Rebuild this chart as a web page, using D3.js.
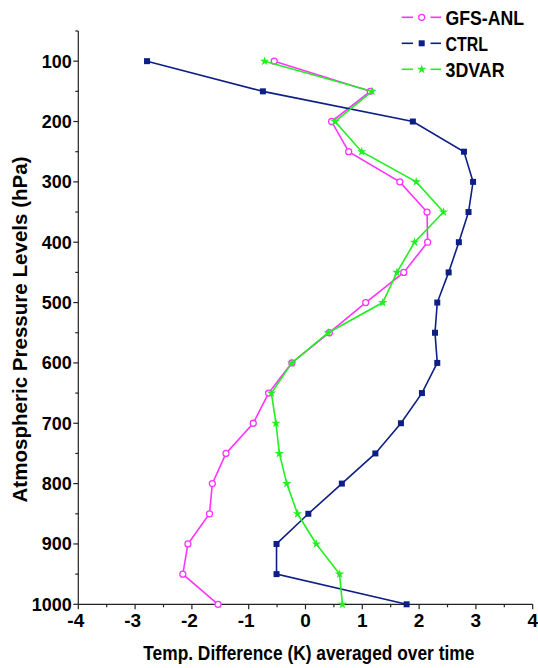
<!DOCTYPE html>
<html>
<head>
<meta charset="utf-8">
<script src="https://cdn.jsdelivr.net/npm/d3@7"></script>
<style>
  html, body { margin: 0; padding: 0; background: #fff; }
  svg { display: block; }
  text { font-family: "Liberation Sans", Arial, Helvetica, sans-serif; font-weight: bold; fill: #000; }
</style>
</head>
<body>
<svg id="chart" width="538" height="668"></svg>
<script>
// Pressure levels (hPa) and mean temperature differences (K)
const levels = [100, 150, 200, 250, 300, 350, 400, 450, 500, 550, 600, 650, 700, 750, 800, 850, 900, 950, 1000];
const gfsAnl = [-0.55, 1.14, 0.46, 0.76, 1.66, 2.14, 2.15, 1.73, 1.06, 0.42, -0.24, -0.65, -0.92, -1.40, -1.64, -1.69, -2.07, -2.16, -1.54];
const ctrl   = [-2.79, -0.75, 1.89, 2.79, 2.95, 2.87, 2.70, 2.52, 2.32, 2.28, 2.32, 2.05, 1.68, 1.23, 0.64, 0.05, -0.51, -0.51, 1.78];
const var3d  = [-0.72, 1.17, 0.52, 0.99, 1.95, 2.43, 1.92, 1.61, 1.36, 0.40, -0.24, -0.60, -0.52, -0.46, -0.33, -0.14, 0.19, 0.60, 0.65];

const xTicks = [-4, -3, -2, -1, 0, 1, 2, 3, 4];
const yTicks = [100, 200, 300, 400, 500, 600, 700, 800, 900, 1000];
const seriesNames = ["GFS-ANL", "CTRL", "3DVAR"];

const svg = d3.select("#chart");

const x = d3.scaleLinear().domain([-4, 4]).range([78.3, 532.7]);
const y = d3.scaleLinear().domain([50, 1000]).range([31, 604.3]);

const axisColor = "#222";

// Y axis (pressure increases downward)
const yAxis = svg.append("g").attr("transform", `translate(${x(-4)},0)`);
yAxis.append("line").attr("x1", 0).attr("x2", 0).attr("y1", y(50)).attr("y2", y(1000))
  .attr("stroke", axisColor).attr("stroke-width", 1.2);
yAxis.selectAll("line.major").data(yTicks).join("line").attr("class", "major")
  .attr("x1", -5).attr("x2", 0).attr("y1", d => y(d)).attr("y2", d => y(d))
  .attr("stroke", axisColor).attr("stroke-width", 1.2);
yAxis.selectAll("line.minor").data(d3.range(50, 1000, 100)).join("line").attr("class", "minor")
  .attr("x1", -3).attr("x2", 0).attr("y1", d => y(d)).attr("y2", d => y(d))
  .attr("stroke", axisColor).attr("stroke-width", 1.2);
yAxis.selectAll("text").data(yTicks).join("text")
  .attr("x", -6.5).attr("y", d => y(d) + 6.5)
  .attr("text-anchor", "end").attr("font-size", 18)
  .text(d => d);

// X axis
const xAxis = svg.append("g").attr("transform", `translate(0,${y(1000)})`);
xAxis.append("line").attr("x1", x(-4)).attr("x2", x(4)).attr("y1", 0).attr("y2", 0)
  .attr("stroke", axisColor).attr("stroke-width", 1.2);
xAxis.selectAll("line.major").data(xTicks).join("line").attr("class", "major")
  .attr("x1", d => x(d)).attr("x2", d => x(d)).attr("y1", 0).attr("y2", 5)
  .attr("stroke", axisColor).attr("stroke-width", 1.2);
xAxis.selectAll("line.minor").data(d3.range(-3.5, 4, 1)).join("line").attr("class", "minor")
  .attr("x1", d => x(d)).attr("x2", d => x(d)).attr("y1", 0).attr("y2", 3)
  .attr("stroke", axisColor).attr("stroke-width", 1.2);
xAxis.selectAll("text").data(xTicks).join("text")
  .attr("x", d => x(d) - (d < 0 ? 2.5 : 0)).attr("y", 22.4)
  .attr("text-anchor", "middle").attr("font-size", 19)
  .text(d => d);

// Axis titles
svg.append("text")
  .attr("x", 308.8).attr("y", 660)
  .attr("text-anchor", "middle").attr("font-size", 20)
  .attr("textLength", 331).attr("lengthAdjust", "spacingAndGlyphs")
  .text("Temp. Difference (K) averaged over time");

svg.append("text")
  .attr("transform", "translate(27,329.5) rotate(-90)")
  .attr("text-anchor", "middle").attr("font-size", 20)
  .attr("textLength", 346).attr("lengthAdjust", "spacingAndGlyphs")
  .text("Atmospheric Pressure Levels (hPa)");

// Series
const series = [
  { name: seriesNames[0], values: gfsAnl, color: "#ff33ff", marker: "circle" },
  { name: seriesNames[1], values: ctrl,   color: "#0d1f85", marker: "square" },
  { name: seriesNames[2], values: var3d,  color: "#22ee22", marker: "star" }
];

const line = d3.line().x(d => x(d.v)).y(d => y(d.p));

function drawMarker(g, type, color) {
  if (type === "circle") {
    g.append("circle").attr("r", 3).attr("fill", "#fff").attr("stroke", color).attr("stroke-width", 1.3);
  } else if (type === "square") {
    g.append("rect").attr("x", -3).attr("y", -3).attr("width", 6).attr("height", 6).attr("fill", color);
  } else {
    g.append("path").attr("d", d3.symbol(d3.symbolStar, 27)()).attr("fill", color);
  }
}

series.forEach(s => {
  const pts = levels.map((p, i) => ({ p, v: s.values[i] }));
  svg.append("path").datum(pts).attr("d", line)
    .attr("fill", "none").attr("stroke", s.color).attr("stroke-width", 1.6);
  svg.append("g").selectAll("g").data(pts).join("g")
    .attr("transform", d => `translate(${x(d.v)},${y(d.p)})`)
    .each(function () { drawMarker(d3.select(this), s.marker, s.color); });
});

// Legend
const legendRows = [17.3, 43.3, 69.3];
const legendWidths = [78.5, 42.5, 59];
series.forEach((s, i) => {
  const g = svg.append("g").attr("transform", `translate(0,${legendRows[i]})`);
  g.append("line").attr("x1", 401.7).attr("x2", 413).attr("y1", 0).attr("y2", 0)
    .attr("stroke", s.color).attr("stroke-width", 1.6);
  g.append("line").attr("x1", 430.5).attr("x2", 441).attr("y1", 0).attr("y2", 0)
    .attr("stroke", s.color).attr("stroke-width", 1.6);
  const m = g.append("g").attr("transform", "translate(421.7,0)");
  drawMarker(m, s.marker, s.color);
  g.append("text").attr("x", 445.5).attr("y", 7.5)
    .attr("font-size", 20)
    .attr("textLength", legendWidths[i]).attr("lengthAdjust", "spacingAndGlyphs")
    .text(s.name);
});
</script>
</body>
</html>
